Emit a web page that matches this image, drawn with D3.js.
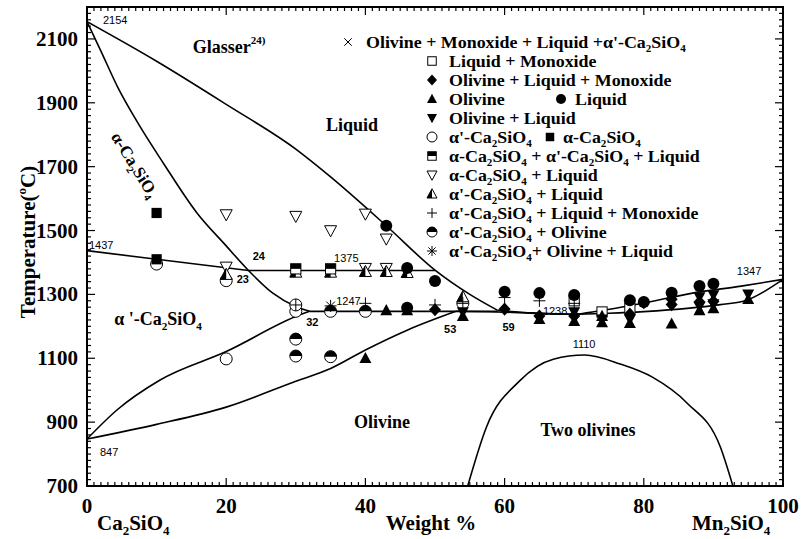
<!DOCTYPE html>
<html>
<head>
<meta charset="utf-8">
<script src="https://cdn.jsdelivr.net/npm/d3@7/dist/d3.min.js"></script>
<style>
  body { margin: 0; background: #fff; }
  text { fill: #000; }
</style>
</head>
<body>
<svg id="chart" width="812" height="539"></svg>
<script>
// ---- axis ticks ----
const xTickValues = [0, 20, 40, 60, 80, 100];
const yTickValues = [700, 900, 1100, 1300, 1500, 1700, 1900, 2100];

// ---- phase boundaries: [wt% Mn2SiO4, temperature °C] ----
const liquidusUpper   = [[0, 2154], [10, 2030], [20, 1895], [30, 1755], [35, 1668], [43, 1515], [50, 1376], [55, 1300], [59, 1250]];
const alphaLiquidus   = [[0, 2154], [2, 2062], [4.5, 1945], [7.5, 1830], [11, 1710], [15.8, 1555], [20, 1452], [23.2, 1375], [26.7, 1304], [30, 1262], [32, 1247]];
const alphaTransition = [[0, 1437], [10, 1410], [23.2, 1375]];
const line1375        = [[23.2, 1375], [50, 1375]];
const line1247        = [[32, 1247], [59, 1247]];
const alphaPrimeUpper = [[0, 847], [4.3, 938], [10.5, 1032], [20, 1121], [30.6, 1236], [32, 1247]];
const olivineSolvus   = [[0, 847], [10, 893], [20, 947], [30, 1028], [35, 1068], [40, 1126], [46, 1188], [53, 1247]];
const olivineSolidus  = [[53, 1247], [59, 1245], [65, 1240], [70, 1238], [75, 1241], [80, 1246], [86.6, 1257], [91, 1268], [94.8, 1282], [100, 1347]];
const olivineLiquidus = [[59, 1250], [64, 1242], [70, 1238], [72, 1243], [80, 1273], [87, 1304], [94, 1326], [100, 1347]];
const twoOlivineDome  = [[54.7, 700], [57.4, 885], [62.2, 1030], [67, 1097], [71.5, 1110], [76.6, 1082], [81.3, 1040], [86.2, 960], [91, 822], [92.8, 700]];

// ---- experimental points: [wt% Mn2SiO4, temperature °C] ----
const olivMonoLiqAlphaP = [];
const liqMono       = [[70, 1280], [74, 1245], [78, 1257]];
const olivLiqMono   = [[50, 1252], [60, 1254], [65, 1232], [70, 1232], [78, 1238], [80, 1274], [84, 1285], [84, 1268], [88, 1276], [90, 1278]];
const olivine       = [[40, 1100], [43, 1250], [46, 1250], [54, 1232], [65, 1222], [70, 1216], [74, 1232], [74, 1212], [78, 1210], [84, 1208], [88, 1250], [90, 1256], [95, 1285]];
const liquid        = [[43, 1515], [46, 1383], [46, 1258], [50, 1342], [60, 1308], [65, 1304], [70, 1298], [78, 1282], [80, 1276], [84, 1305], [88, 1326], [90, 1333]];
const olivLiq       = [[54, 1245], [70, 1245], [74, 1222], [78, 1222], [88, 1292], [88, 1262], [90, 1298], [90, 1270], [95, 1300]];
const alphaPrime    = [[10, 1395], [20, 1343], [20, 1098], [30, 1247], [30, 1267], [54, 1272]];
const alpha         = [[10, 1555], [10, 1410]];
const alphaAlphaPLiq = [[30, 1380], [35, 1380]];
const alphaLiq      = [[20, 1550], [30, 1545], [35, 1500], [40, 1552], [43, 1474], [20, 1386], [40, 1382], [43, 1382]];
const alphaPLiq     = [[20, 1362], [30, 1369], [35, 1369], [40, 1371], [43, 1371], [46, 1368], [54, 1292]];
const alphaPLiqMono = [[30, 1267], [40, 1272], [50, 1267], [54, 1272], [60, 1290], [65, 1280], [70, 1272]];
const alphaPOliv    = [[30, 1160], [30, 1107], [35, 1105], [35, 1247], [40, 1247]];
const alphaPOlivLiq = [[35, 1264]];

// ---- legend rows ----
const legendRows = [
  { type: "cross",     label: "Olivine + Monoxide + Liquid +α'-Ca_2SiO_4" },
  { type: "sqOpen",    label: "Liquid + Monoxide" },
  { type: "diamond",   label: "Olivine + Liquid + Monoxide" },
  { type: "triUp",     label: "Olivine", type2: "circle", label2: "Liquid" },
  { type: "triDown",   label: "Olivine + Liquid" },
  { type: "circleOpen", label: "α'-Ca_2SiO_4", type2: "square", label2: "α-Ca_2SiO_4" },
  { type: "sqHalf",    label: "α-Ca_2SiO_4 + α'-Ca_2SiO_4 + Liquid" },
  { type: "triDownOpen", label: "α-Ca_2SiO_4 + Liquid" },
  { type: "triHalf",   label: "α'-Ca_2SiO_4 + Liquid" },
  { type: "plus",      label: "α'-Ca_2SiO_4 + Liquid + Monoxide" },
  { type: "circleHalf", label: "α'-Ca_2SiO_4 + Olivine" },
  { type: "asterisk",  label: "α'-Ca_2SiO_4+ Olivine + Liquid" }
];

const serif = "'Liberation Serif', 'Times New Roman', serif";
const sans = "'Liberation Sans', Arial, sans-serif";

const svg = d3.select("#chart");
const pLeft = 87, pRight = 783, pTop = 7, pBottom = 486;

const x = d3.scaleLinear().domain([0, 100]).range([pLeft, pRight]);
const y = d3.scaleLinear().domain([700, 2200]).range([pBottom, pTop]);

// text with _n subscripts
function rich(t, str, fs) {
  fs = fs || parseFloat(t.attr("font-size"));
  const parts = str.split(/(_\d+)/);
  let shift = 0;
  parts.forEach(p => {
    if (!p) return;
    let txt = p, target = 0, small = false;
    if (p[0] === "_") { txt = p.slice(1); target = 0.25; small = true; }
    const ts = t.append("tspan").text(txt);
    if (target !== shift) ts.attr("dy", ((target - shift) * fs).toFixed(2));
    if (small) ts.attr("font-size", (fs * 0.62).toFixed(1));
    shift = target;
  });
}

// ---- markers ----
function marker(g, type, cx, cy, s) {
  const sw = 1;
  const h = s * 1.05, b = s * 0.8;
  switch (type) {
    case "circle":
      g.append("circle").attr("cx", cx).attr("cy", cy).attr("r", s).attr("fill", "#000");
      break;
    case "circleOpen":
      g.append("circle").attr("cx", cx).attr("cy", cy).attr("r", s).attr("fill", "#fff").attr("stroke", "#000").attr("stroke-width", sw);
      break;
    case "circleHalf":
      g.append("circle").attr("cx", cx).attr("cy", cy).attr("r", s).attr("fill", "#fff").attr("stroke", "#000").attr("stroke-width", sw);
      g.append("path").attr("d", `M${cx - s},${cy} A${s},${s} 0 0 1 ${cx + s},${cy} Z`).attr("fill", "#000");
      break;
    case "square":
      g.append("rect").attr("x", cx - s * 0.85).attr("y", cy - s * 0.85).attr("width", s * 1.7).attr("height", s * 1.7).attr("fill", "#000");
      break;
    case "sqOpen":
      g.append("rect").attr("x", cx - s * 0.85).attr("y", cy - s * 0.85).attr("width", s * 1.7).attr("height", s * 1.7).attr("fill", "#fff").attr("stroke", "#000").attr("stroke-width", sw);
      break;
    case "sqHalf":
      g.append("rect").attr("x", cx - s * 0.85).attr("y", cy - s * 0.85).attr("width", s * 1.7).attr("height", s * 1.7).attr("fill", "#fff").attr("stroke", "#000").attr("stroke-width", sw);
      g.append("rect").attr("x", cx - s * 0.85).attr("y", cy - s * 0.85).attr("width", s * 1.7).attr("height", s * 0.85).attr("fill", "#000");
      break;
    case "diamond":
      g.append("path").attr("d", `M${cx},${cy - s * 1.1} L${cx + s},${cy} L${cx},${cy + s * 1.1} L${cx - s},${cy} Z`).attr("fill", "#000");
      break;
    case "triUp":
      g.append("path").attr("d", `M${cx},${cy - h} L${cx + s},${cy + b} L${cx - s},${cy + b} Z`).attr("fill", "#000");
      break;
    case "triDown":
      g.append("path").attr("d", `M${cx},${cy + h} L${cx + s},${cy - b} L${cx - s},${cy - b} Z`).attr("fill", "#000");
      break;
    case "triDownOpen":
      g.append("path").attr("d", `M${cx},${cy + h} L${cx + s},${cy - b} L${cx - s},${cy - b} Z`).attr("fill", "#fff").attr("stroke", "#000").attr("stroke-width", sw);
      break;
    case "triHalf":
      g.append("path").attr("d", `M${cx},${cy - h} L${cx + s},${cy + b} L${cx - s},${cy + b} Z`).attr("fill", "#fff").attr("stroke", "#000").attr("stroke-width", sw);
      g.append("path").attr("d", `M${cx},${cy - h} L${cx},${cy + b} L${cx - s},${cy + b} Z`).attr("fill", "#000");
      break;
    case "plus":
      g.append("path").attr("d", `M${cx - s},${cy} H${cx + s} M${cx},${cy - s} V${cy + s}`).attr("stroke", "#000").attr("stroke-width", sw).attr("fill", "none");
      break;
    case "cross": {
      const k = s * 0.75;
      g.append("path").attr("d", `M${cx - k},${cy - k} L${cx + k},${cy + k} M${cx - k},${cy + k} L${cx + k},${cy - k}`).attr("stroke", "#000").attr("stroke-width", sw).attr("fill", "none");
      break;
    }
    case "asterisk": {
      const k = s * 0.72;
      g.append("path").attr("d", `M${cx - k},${cy - k} L${cx + k},${cy + k} M${cx - k},${cy + k} L${cx + k},${cy - k} M${cx},${cy - s} V${cy + s} M${cx - s},${cy} H${cx + s}`).attr("stroke", "#000").attr("stroke-width", sw).attr("fill", "none");
      break;
    }
  }
}

// ---- frame ticks (inward) ----
const axes = svg.append("g").attr("stroke", "#000").attr("fill", "none");
d3.range(0, 101, 1).forEach(v => {
  const len = v % 20 === 0 ? 8 : 4;
  axes.append("line").attr("x1", x(v)).attr("x2", x(v)).attr("y1", pBottom).attr("y2", pBottom - len).attr("stroke-width", 1.2);
  axes.append("line").attr("x1", x(v)).attr("x2", x(v)).attr("y1", pTop).attr("y2", pTop + len).attr("stroke-width", 1.2);
});
d3.range(700, 2201, 20).forEach(v => {
  const len = (v - 700) % 200 === 0 ? 8 : 4;
  axes.append("line").attr("y1", y(v)).attr("y2", y(v)).attr("x1", pLeft).attr("x2", pLeft + len).attr("stroke-width", 1.2);
  axes.append("line").attr("y1", y(v)).attr("y2", y(v)).attr("x1", pRight).attr("x2", pRight - len).attr("stroke-width", 1.2);
});
svg.append("rect").attr("x", pLeft).attr("y", pTop).attr("width", pRight - pLeft).attr("height", pBottom - pTop)
  .attr("fill", "none").attr("stroke", "#000").attr("stroke-width", 2);

// tick labels
svg.append("g").selectAll("text").data(xTickValues).join("text")
  .attr("x", d => x(d)).attr("y", 513).attr("text-anchor", "middle")
  .attr("font-family", serif).attr("font-weight", "bold").attr("font-size", 21).text(d => d);
svg.append("g").selectAll("text").data(yTickValues).join("text")
  .attr("x", 78).attr("y", d => y(d) + 7).attr("text-anchor", "end")
  .attr("font-family", serif).attr("font-weight", "bold").attr("font-size", 21).text(d => d);

// axis titles
const xt1 = svg.append("text").attr("x", 97).attr("y", 530).attr("font-family", serif).attr("font-weight", "bold").attr("font-size", 21);
rich(xt1, "Ca_2SiO_4");
svg.append("text").attr("x", 431).attr("y", 530).attr("text-anchor", "middle").attr("font-family", serif).attr("font-weight", "bold").attr("font-size", 21).text("Weight %");
const xt3 = svg.append("text").attr("x", 692).attr("y", 530).attr("font-family", serif).attr("font-weight", "bold").attr("font-size", 21);
rich(xt3, "Mn_2SiO_4");
const yt = svg.append("text").attr("transform", "translate(35,242) rotate(-90)").attr("text-anchor", "middle")
  .attr("font-family", serif).attr("font-weight", "bold").attr("font-size", 21);
yt.append("tspan").text("Temperature(");
yt.append("tspan").text("o").attr("font-size", 13).attr("dy", -9);
yt.append("tspan").text("C)").attr("dy", 9);

// ---- phase boundary curves ----
svg.append("clipPath").attr("id", "clip").append("rect").attr("x", pLeft).attr("y", pTop).attr("width", pRight - pLeft).attr("height", pBottom - pTop);
const plot = svg.append("g").attr("clip-path", "url(#clip)");
const line = d3.line().x(d => x(d[0])).y(d => y(d[1])).curve(d3.curveMonotoneX);
[liquidusUpper, alphaLiquidus, alphaTransition, line1375, line1247, alphaPrimeUpper,
 olivineSolvus, olivineSolidus, olivineLiquidus, twoOlivineDome].forEach(c => {
  plot.append("path").attr("d", line(c)).attr("fill", "none").attr("stroke", "#000").attr("stroke-width", 1.6);
});

// ---- data points ----
const pts = svg.append("g");
const series = [
  [alphaPOliv, "circleHalf"], [alphaPrime, "circleOpen"], [alphaLiq, "triDownOpen"],
  [alphaPLiq, "triHalf"], [alphaAlphaPLiq, "sqHalf"], [alpha, "square"],
  [liqMono, "sqOpen"], [olivLiq, "triDown"], [olivine, "triUp"], [olivLiqMono, "diamond"],
  [liquid, "circle"], [alphaPLiqMono, "plus"], [alphaPOlivLiq, "asterisk"], [olivMonoLiqAlphaP, "cross"]
];
series.forEach(([data, type]) => {
  data.forEach(d => marker(pts, type, x(d[0]), y(d[1]), 6));
});

// ---- region labels ----
function label(txt, px, py, size, opts = {}) {
  const t = svg.append("text").attr("x", px).attr("y", py)
    .attr("font-family", serif).attr("font-weight", "bold")
    .attr("font-size", size).attr("text-anchor", opts.anchor || "middle");
  if (opts.rotate) t.attr("transform", `rotate(${opts.rotate},${px},${py})`);
  rich(t, txt);
  return t;
}
const g1 = label("Glasser", 229, 53, 18);
g1.append("tspan").text("24)").attr("font-size", 11).attr("dy", -9);
label("Liquid", 352, 131, 18);
label("α-Ca_2SiO_4", 130, 168, 17, { rotate: 58 });
label("α '-Ca_2SiO_4", 158, 325, 18);
label("Olivine", 382, 428, 18);
label("Two olivines", 588, 436, 18);

// temperature annotations
[["2154", 0, 2154, 16, 2], ["1437", 0, 1437, 2, -2], ["847", 0, 847, 13, 17],
 ["1375", 35.5, 1375, 0, -8], ["1247", 35.8, 1247, 0, -6], ["1238", 65.5, 1238, 0, 1],
 ["1110", 71.5, 1110, -12, -7], ["1347", 94.8, 1347, -10, -4]].forEach(([t, vx, vy, dx, dy]) => {
  svg.append("text").attr("x", x(vx) + dx).attr("y", y(vy) + dy)
    .attr("font-family", sans).attr("font-size", 11).attr("fill", "#222").text(t);
});
// composition annotations
[["24", 23.8, 1375, 0, -10], ["23", 21.5, 1375, 0, 13], ["32", 31.5, 1247, 0, 15],
 ["53", 51.3, 1247, 0, 22], ["59", 59.7, 1247, 0, 20]].forEach(([t, vx, vy, dx, dy]) => {
  svg.append("text").attr("x", x(vx) + dx).attr("y", y(vy) + dy)
    .attr("font-family", sans).attr("font-weight", "bold").attr("font-size", 11).text(t);
});

// ---- legend ----
const lg = svg.append("g");
function legendText(tx, ty, str) {
  const t = lg.append("text").attr("transform", `translate(${tx},${ty}) scale(1.12,1)`)
    .attr("font-family", serif).attr("font-weight", "bold").attr("font-size", 16);
  rich(t, str, 16);
}
legendRows.forEach((r, i) => {
  const ry = 42 + i * 19;
  const sx = i === 0 ? 348 : 432;
  const tx = i === 0 ? 366 : 449;
  marker(lg, r.type, sx, ry, 5);
  legendText(tx, ry + 5.5, r.label);
  if (r.type2) {
    const sx2 = r.type2 === "circle" ? 561 : 550;
    const tx2 = r.type2 === "circle" ? 575 : 563;
    marker(lg, r.type2, sx2, ry, 5);
    legendText(tx2, ry + 5.5, r.label2);
  }
});
</script>
</body>
</html>
